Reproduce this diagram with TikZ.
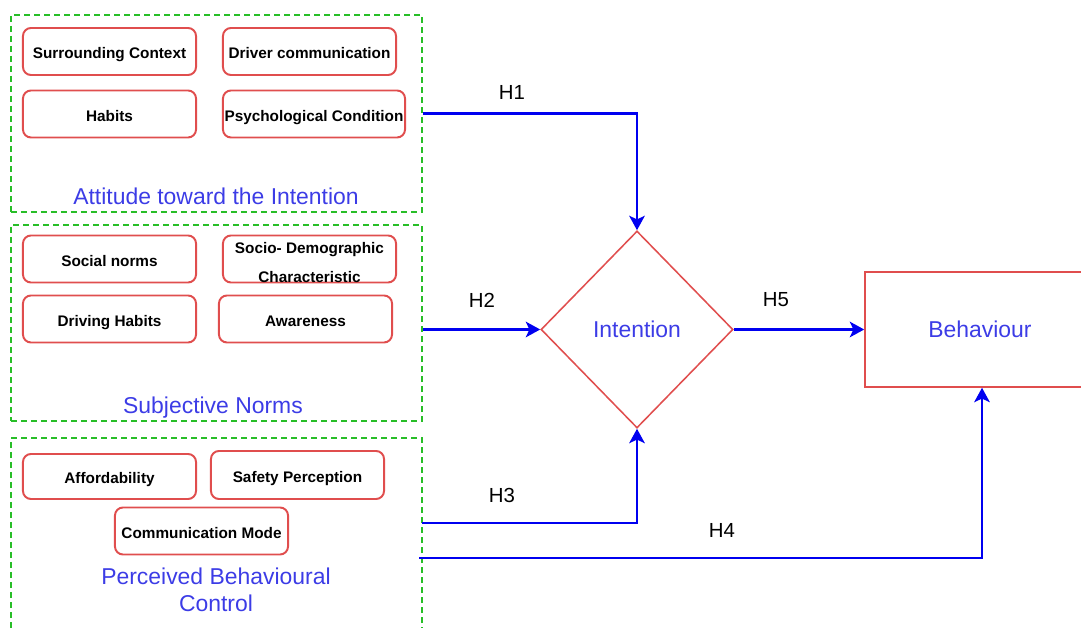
\documentclass[tikz,border=0pt]{standalone}
\usepackage{fontspec}
\setmainfont{Liberation Sans}
\usetikzlibrary{positioning,shapes.geometric,arrows.meta}
\tikzset{ > = {Stealth[length=3.6mm, width=3.9mm, inset=0.9mm]} }
\definecolor{boxred}{RGB}{224,78,78}
\definecolor{grpgreen}{RGB}{40,190,40}
\definecolor{arrblue}{RGB}{0,0,240}
\definecolor{txtblue}{RGB}{60,60,230}

\begin{document}
\begin{tikzpicture}
  [
    x = 0.025cm, y = -0.025cm,
    every node/.style = { inner sep = 0pt },
    factor/.style = { draw = boxred, line width = 1.4pt, rounded corners = 0.2cm, minimum width = 4.325cm, minimum height = 1.175cm, text height = 1.1em, text depth = 0.06em, font = \fontsize{10.9}{13}\selectfont\bfseries },
    group/.style = { draw = grpgreen, line width = 1.2pt, dash pattern = on 0.15cm off 0.1cm, rectangle },
    grouplabel/.style = { text = txtblue, font = \fontsize{16.3}{18.9}\selectfont },
    hyp/.style = { font = \fontsize{14.5}{17}\selectfont },
    link/.style = { ->, draw = arrblue, line width = 1.5pt }
  ]
    \useasboundingbox (0,0) rectangle (1081,628);
    \clip (0,0) rectangle (1081,628);
    \node (att) [group, minimum width = 10.275cm, minimum height = 4.925cm] at (216.5,113.5) {};
    \node (sn) [group, minimum width = 10.275cm, minimum height = 4.9cm] at (216.5,323) {};
    \node (pbc) [group, minimum width = 10.275cm, minimum height = 5.1cm] at (216.5,540) {};
    \node (attlbl) [grouplabel] at (216,196) {Attitude toward the Intention};
    \node (snlbl) [grouplabel] at (213,408) {Subjective Norms};
    \node (pbclbl) [grouplabel, align = center] at (216,590) {Perceived Behavioural\\Control};
    \node (sc) [factor] at (109.5,51.5) {Surrounding Context};
    \node (dc) [factor] at (309.5,51.5) {Driver communication};
    \node (hab) [factor] at (109.5,114) {Habits};
    \node (psy) [factor, minimum width = 4.55cm] at (314,114) {Psychological Condition};
    \node (soc) [factor] at (109.5,259) {Social norms};
    \node (sdc) [factor, text height = 0.3cm, text depth = 0.55cm, font = \fontsize{10.9}{20.6}\selectfont\bfseries] at (309.5,259) {\parbox[t]{4.3cm}{\centering Socio- Demographic\\Characteristic}};
    \node (dh) [factor] at (109.5,319) {Driving Habits};
    \node (awa) [factor] at (305.5,319) {Awareness};
    \node (aff) [factor, minimum height = 1.125cm] at (109.5,476.5) {Affordability};
    \node (sp) [factor, minimum height = 1.2cm] at (297.5,475) {Safety Perception};
    \node (cm) [factor] at (201.5,531) {Communication Mode};
    \node (int) [diamond, draw = boxred, line width = 1.1pt, minimum width = 4.8cm, minimum height = 4.925cm, grouplabel] at (637,329.5) {Intention};
    \node (beh) [rectangle, draw = boxred, line width = 1.1pt, minimum width = 5.75cm, minimum height = 2.875cm, grouplabel] at (980,329.5) {Behaviour};
    \coordinate (h3) at (422,523);
    \coordinate (h4) at (419,558);
    \draw [link] (att.east) -| (int.north);
    \draw [link] (int.west -| sn.east) -- (int.west);
    \draw [link] (h3) -| (int.south);
    \draw [link] (h4) -| ([xshift=0.05cm]beh.south);
    \draw [link] (int.east) -- (beh.west);
    \node (h1lbl) [hyp] at (512,92) {H1};
    \node (h2lbl) [hyp] at (482,300) {H2};
    \node (h3lbl) [hyp] at (502,495) {H3};
    \node (h4lbl) [hyp] at (722,530) {H4};
    \node (h5lbl) [hyp] at (776,300) {H5};
  \end{tikzpicture}
\end{document}
